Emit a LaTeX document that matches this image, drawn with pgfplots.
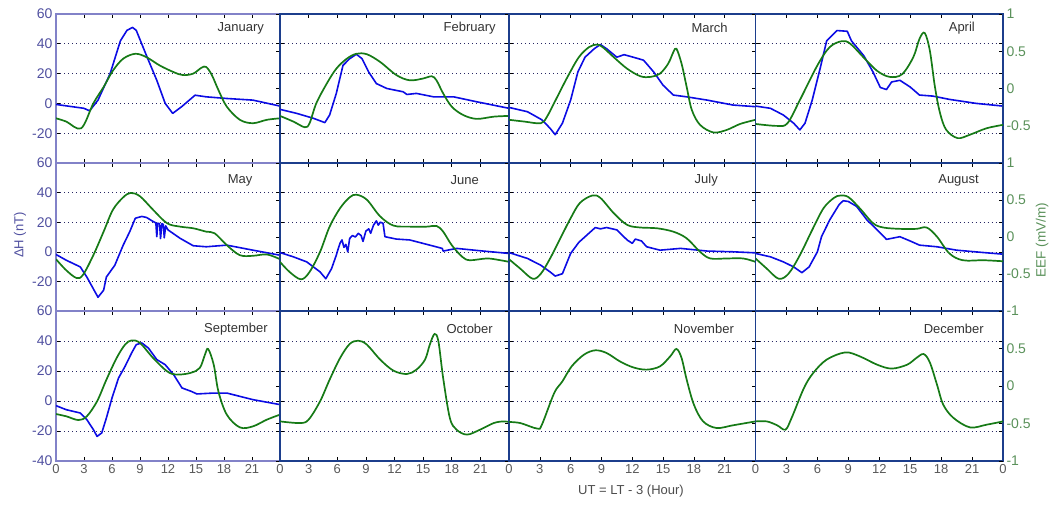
\documentclass[border=0pt]{standalone}
\usepackage{fontspec}
\setmainfont{Liberation Sans}
\usepackage{pgfplots}
\pgfplotsset{compat=1.18}

\definecolor{hblue}{RGB}{12,12,228}
\definecolor{egreen}{RGB}{22,122,22}
\definecolor{sep}{RGB}{28,62,140}
\definecolor{edge}{RGB}{130,130,200}
\definecolor{lblue}{RGB}{80,80,160}
\definecolor{lgreen}{RGB}{90,145,90}
\definecolor{gridc}{RGB}{40,40,100}

\tikzset{mon/.style={anchor=east, inner sep=0pt, font=\fontsize{13}{15}\selectfont, text=black!80}}

\pgfplotsset{
  base/.style={scale only axis, anchor=south west, xmin=0, xmax=24,
    xtick={0,3,...,24}, xticklabels={}, yticklabels={},
    tick align=inside, major tick length=4pt,
    tick style={black, line width=0.6pt},
    ticklabel style={font=\fontsize{13}{15}\selectfont},
    yticklabel style={font=\fontsize{14}{16}\selectfont},
  },
  hax/.style={base, ymin=-40, ymax=60, ytick={-40,-20,0,20,40,60},
    ymajorgrids, grid style={gridc, line width=0.6pt, dash pattern=on 0.8pt off 3.2pt},
    x axis line style={black, line width=0.8pt},
    y axis line style={sep, line width=1.4pt},
    yticklabel style={text=lblue}, xticklabel style={text=black!65}},
  eax/.style={base, ymin=-1, ymax=1, ytick={-1,-0.5,0,0.5,1},
    axis x line=none, axis y line*=right,
    y axis line style={sep, line width=1.4pt},
    yticklabel style={text=lgreen}},
  bl/.style={hblue, line width=1.6pt, line join=round},
  gr/.style={egreen, line width=1.7pt, smooth, tension=0.55},
  botx/.style={xticklabels={0,3,6,9,12,15,18,21,{}}},
}

\begin{document}
\begin{tikzpicture}
\useasboundingbox (0pt,0pt) rectangle (1054pt,504pt);

% ---------------- January ----------------
\begin{axis}[hax, at={(56pt,341pt)}, width=224pt, height=149pt,
  y axis line style={edge, line width=1.2pt}, yticklabels={{},-20,0,20,40,60}]
\addplot[bl] coordinates {(0,-0.7) (1.5,-2) (3,-3.3) (3.6,-5) (4.5,2.2) (5.8,20) (6.9,42) (7.6,49) (8.2,51) (8.6,49) (9.7,32) (10.8,15.5) (11.7,0) (12.5,-6.7) (13.5,-2) (14.9,5.5) (16.1,4.4) (18.3,3.3) (21.1,2.2) (24,-1.8)};
\node[mon] at (rel axis cs:0.929,0.906) {January};
\end{axis}
\begin{axis}[eax, at={(56pt,341pt)}, width=224pt, height=149pt]
\addplot[gr] coordinates {(0,-0.40) (1.1,-0.444) (2.7,-0.534) (4.0,-0.20) (5.1,0.02) (6.1,0.24) (7.2,0.40) (8.5,0.466) (9.7,0.42) (11.1,0.31) (12.6,0.22) (13.6,0.18) (14.7,0.20) (15.6,0.28) (16.1,0.288) (16.7,0.18) (17.4,-0.02) (18.3,-0.244) (19.7,-0.42) (21.1,-0.466) (22.6,-0.42) (24,-0.40)};
\end{axis}

% ---------------- February ----------------
\begin{axis}[hax, at={(280pt,341pt)}, width=229pt, height=149pt]
\addplot[bl] coordinates {(0,-4) (1.75,-6.7) (3.5,-10) (4.7,-12.9) (5.2,-7.8) (5.9,6.7) (6.6,25.5) (7.3,30) (8.0,33) (8.6,30) (9.3,21) (10.1,13.3) (11.2,10) (12.9,7.8) (13.3,6) (14.3,6.7) (16.1,4.4) (18.2,4.4) (20.6,1.1) (24,-3.3)};
\node[mon] at (rel axis cs:0.943,0.906) {February};
\end{axis}
\begin{axis}[eax, at={(280pt,341pt)}, width=229pt, height=149pt]
\addplot[gr] coordinates {(0,-0.368) (1.4,-0.444) (2.6,-0.52) (3.1,-0.466) (3.8,-0.20) (4.9,0.066) (5.9,0.266) (7.0,0.40) (8.0,0.466) (9.1,0.46) (10.5,0.356) (12.2,0.18) (13.6,0.11) (15.0,0.134) (15.9,0.164) (16.4,0.11) (17.1,-0.066) (18.0,-0.244) (19.2,-0.356) (20.6,-0.408) (22.4,-0.378) (24,-0.368)};
\end{axis}

% ---------------- March ----------------
\begin{axis}[hax, at={(509pt,341pt)}, width=246.5pt, height=149pt]
\addplot[bl] coordinates {(0,-2.7) (1.8,-5.6) (3.2,-11) (4.0,-16.7) (4.5,-21) (5.2,-13.3) (6.0,2.2) (6.7,21) (7.4,31) (8.3,36.7) (8.9,39.5) (9.5,36.7) (10.5,31) (11.2,32.7) (12.1,31) (13.1,29) (14.1,21) (15.0,12.2) (16.0,5.6) (17.3,4.4) (19.3,2.2) (21.8,-1.1) (24,-2.2)};
\node[mon] at (rel axis cs:0.888,0.906) {March};
\end{axis}
\begin{axis}[eax, at={(509pt,341pt)}, width=246.5pt, height=149pt]
\addplot[gr] coordinates {(0,-0.42) (1.5,-0.444) (3.1,-0.466) (3.7,-0.378) (4.7,-0.112) (5.7,0.156) (6.8,0.42) (7.8,0.556) (8.6,0.59) (9.2,0.546) (10.2,0.42) (11.5,0.266) (12.8,0.164) (13.8,0.156) (14.7,0.20) (15.5,0.334) (16.0,0.488) (16.3,0.534) (16.8,0.334) (17.3,0.02) (17.8,-0.288) (18.6,-0.488) (19.9,-0.59) (21.2,-0.556) (22.5,-0.476) (24,-0.42)};
\end{axis}

% ---------------- April ----------------
\begin{axis}[hax, at={(755.5pt,341pt)}, width=247.5pt, height=149pt]
\addplot[bl] coordinates {(0,-1.8) (1.45,-3.3) (2.7,-7.8) (3.7,-13.3) (4.3,-17.8) (4.8,-13.3) (5.5,2.2) (6.3,24.4) (6.9,42) (7.9,48.9) (8.9,48.4) (9.3,42) (10.5,32) (11.4,21) (12.1,10.7) (12.7,9.3) (13.2,14.4) (14.0,15.5) (15.0,11) (15.9,5.6) (17.2,4.9) (18.8,2.7) (21.4,0) (24,-1.8)};
\node[mon] at (rel axis cs:0.887,0.906) {April};
\end{axis}
\begin{axis}[eax, at={(755.5pt,341pt)}, width=247.5pt, height=149pt,
  yticklabels={{},-0.5,0,0.5,1}]
\addplot[gr] coordinates {(0,-0.476) (2.1,-0.502) (3.1,-0.466) (4.3,-0.156) (6.0,0.31) (7.2,0.556) (8.4,0.636) (9.2,0.60) (10.5,0.414) (11.8,0.236) (13.0,0.156) (14.2,0.19) (15.3,0.42) (15.9,0.666) (16.4,0.746) (16.9,0.512) (17.4,0.02) (17.9,-0.334) (18.5,-0.556) (19.6,-0.666) (20.8,-0.62) (22.4,-0.534) (24,-0.488)};
\end{axis}

% ---------------- May ----------------
\begin{axis}[hax, at={(56pt,193pt)}, width=224pt, height=148pt,
  y axis line style={edge, line width=1.2pt}, yticklabels={{},-20,0,20,40,60}]
\addplot[bl] coordinates {(0,-1.8) (1.1,-5.7) (2.6,-10.2) (3.3,-17) (4.0,-25) (4.5,-30.7) (5.1,-26) (5.4,-17) (6.3,-9.1) (7.2,4.5) (7.9,13.6) (8.5,22.7) (9.2,23.9) (9.7,23.2) (10.4,20.5) (10.7,19.5) (10.8,10.2) (10.9,19.3) (11.1,19) (11.2,9) (11.35,19) (11.5,18.5) (11.6,9.5) (11.75,17.5) (12.0,14.8) (13.3,9.1) (14.7,4.1) (16.1,3.4) (18.3,4.5) (21.1,1.1) (24,-2.3)};
\node[mon] at (rel axis cs:0.878,0.885) {May};
\end{axis}
\begin{axis}[eax, at={(56pt,193pt)}, width=224pt, height=148pt]
\addplot[gr] coordinates {(0,-0.30) (1.1,-0.45) (2.2,-0.554) (2.9,-0.51) (4.0,-0.246) (5.1,0.072) (6.1,0.368) (7.2,0.536) (8.0,0.596) (9.0,0.55) (10.4,0.368) (11.9,0.186) (13.3,0.14) (14.7,0.118) (16.1,0.072) (17.0,0.05) (18.3,-0.11) (19.7,-0.246) (21.1,-0.254) (22.6,-0.236) (24,-0.30)};
\end{axis}

% ---------------- June ----------------
\begin{axis}[hax, at={(280pt,193pt)}, width=229pt, height=148pt]
\addplot[bl] coordinates {(0,-0.5) (1.4,-3.4) (2.8,-6.8) (3.5,-10.2) (4.2,-13.6) (4.8,-18.2) (5.4,-11.4) (5.9,-2.3) (6.0,0) (6.3,6) (6.5,8) (6.7,3) (6.9,5) (7.1,0) (7.3,9) (7.6,11) (7.9,10) (8.2,12.5) (8.5,11) (8.7,7) (9.0,14) (9.3,15.5) (9.5,12.5) (9.8,18) (10.1,20.9) (10.3,18) (10.5,20) (10.8,19.3) (11.0,10.2) (12.2,8.6) (13.6,8) (15.4,5) (17.0,2.3) (17.1,0.5) (18.5,2.3) (21.3,0.5) (24,-1.1)};
\node[mon] at (rel axis cs:0.869,0.885) {June};
\end{axis}
\begin{axis}[eax, at={(280pt,193pt)}, width=229pt, height=148pt]
\addplot[gr] coordinates {(0,-0.336) (1.0,-0.472) (2.2,-0.572) (3.1,-0.472) (4.2,-0.20) (5.2,0.14) (6.3,0.39) (7.3,0.536) (8.0,0.572) (9.1,0.504) (10.5,0.278) (11.9,0.154) (13.6,0.14) (15.4,0.14) (16.4,0.15) (17.1,0.072) (18.0,-0.11) (19.1,-0.268) (19.9,-0.314) (21.7,-0.29) (23.1,-0.314) (24,-0.336)};
\end{axis}

% ---------------- July ----------------
\begin{axis}[hax, at={(509pt,193pt)}, width=246.5pt, height=148pt]
\addplot[bl] coordinates {(0,-0.5) (1.8,-4.5) (3.1,-9.1) (4.0,-13.6) (4.5,-16.4) (5.2,-14.8) (6.0,-1.1) (6.8,6.4) (7.6,11.4) (8.4,16.4) (8.9,15.5) (9.5,16.4) (10.5,14.8) (11.5,8) (12.0,5.7) (12.3,8.6) (12.9,7.3) (13.4,3.4) (14.7,1.1) (16.7,2.3) (19.3,0.5) (21.8,0) (24,-0.7)};
\node[mon] at (rel axis cs:0.848,0.885) {July};
\end{axis}
\begin{axis}[eax, at={(509pt,193pt)}, width=246.5pt, height=148pt]
\addplot[gr] coordinates {(0,-0.30) (1.1,-0.428) (2.3,-0.564) (3.1,-0.496) (4.0,-0.29) (5.0,-0.018) (6.0,0.254) (6.9,0.46) (8.1,0.56) (8.9,0.528) (10.2,0.322) (11.5,0.164) (12.8,0.128) (14.4,0.118) (16.0,0.072) (17.3,-0.018) (18.6,-0.20) (19.6,-0.29) (21.2,-0.29) (22.8,-0.29) (24,-0.336)};
\end{axis}

% ---------------- August ----------------
\begin{axis}[hax, at={(755.5pt,193pt)}, width=247.5pt, height=148pt]
\addplot[bl] coordinates {(0,-1.1) (1.45,-3.4) (2.7,-6.8) (3.7,-10.2) (4.5,-14.1) (5.2,-10.2) (6.0,0) (6.4,10.2) (7.2,21.6) (8.1,31.8) (8.5,34.5) (9.0,34) (9.8,30.7) (10.8,21.6) (11.8,14.8) (12.7,8.4) (14.0,10.2) (15.0,7.3) (15.9,4.5) (17.6,3.4) (19.5,1.1) (22.1,-0.5) (24,-1.6)};
\node[mon] at (rel axis cs:0.903,0.885) {August};
\end{axis}
\begin{axis}[eax, at={(755.5pt,193pt)}, width=247.5pt, height=148pt,
  yticklabels={-1,-0.5,0,0.5,1}]
\addplot[gr] coordinates {(0,-0.29) (1.1,-0.428) (2.25,-0.564) (3.2,-0.496) (4.3,-0.246) (5.5,0.096) (6.6,0.39) (7.6,0.528) (8.2,0.56) (9.0,0.54) (10.1,0.39) (11.4,0.186) (12.4,0.128) (14.0,0.11) (15.6,0.11) (16.6,0.128) (17.6,0.004) (18.8,-0.222) (20.1,-0.314) (22.1,-0.314) (24,-0.328)};
\end{axis}

% ---------------- September ----------------
\begin{axis}[hax, at={(56pt,43pt)}, width=224pt, height=150pt, botx,
  y axis line style={edge, line width=1.2pt}, yticklabels={-40,-20,0,20,40,60}]
\addplot[bl] coordinates {(0,-3.1) (1.1,-5.8) (2.6,-8) (3.3,-12.4) (4.0,-19) (4.4,-23.6) (4.9,-21.3) (5.4,-11.3) (6.0,2) (6.7,15.3) (7.4,23.1) (8.1,32) (8.6,37.6) (9.2,38.7) (9.9,35.3) (10.8,27.6) (11.7,24.2) (12.6,17.6) (13.5,8.7) (14.5,6.4) (15.1,4.7) (16.9,5.3) (18.3,5.3) (21.1,0.9) (24,-2.4)};
\node[mon] at (rel axis cs:0.946,0.88) {September};
\end{axis}
\begin{axis}[eax, at={(56pt,43pt)}, width=224pt, height=150pt]
\addplot[gr] coordinates {(0,-0.374) (1.1,-0.404) (2.4,-0.454) (3.3,-0.404) (4.4,-0.204) (5.4,0.084) (6.5,0.374) (7.4,0.552) (8.1,0.608) (9.0,0.574) (10.4,0.374) (11.9,0.196) (12.9,0.152) (14.4,0.174) (15.4,0.24) (15.96,0.418) (16.3,0.494) (16.9,0.284) (17.4,-0.072) (18.3,-0.382) (19.7,-0.552) (21.1,-0.538) (22.6,-0.448) (24,-0.382)};
\end{axis}

% ---------------- October ----------------
\begin{axis}[hax, at={(280pt,43pt)}, width=229pt, height=150pt, botx]
\node[mon] at (rel axis cs:0.930,0.88) {October};
\end{axis}
\begin{axis}[eax, at={(280pt,43pt)}, width=229pt, height=150pt]
\addplot[gr] coordinates {(0,-0.472) (2.1,-0.494) (3.0,-0.448) (4.2,-0.204) (5.2,0.084) (6.3,0.374) (7.3,0.56) (8.2,0.604) (9.1,0.552) (10.5,0.352) (11.9,0.204) (13.3,0.16) (14.3,0.218) (15.2,0.352) (15.7,0.552) (16.2,0.694) (16.6,0.596) (17.1,0.106) (17.8,-0.426) (18.5,-0.582) (19.6,-0.648) (20.97,-0.582) (22.4,-0.494) (23.4,-0.472) (24,-0.48)};
\end{axis}

% ---------------- November ----------------
\begin{axis}[hax, at={(509pt,43pt)}, width=246.5pt, height=150pt, botx]
\node[mon] at (rel axis cs:0.913,0.88) {November};
\end{axis}
\begin{axis}[eax, at={(509pt,43pt)}, width=246.5pt, height=150pt]
\addplot[gr] coordinates {(0,-0.48) (1.1,-0.494) (2.75,-0.568) (3.2,-0.516) (4.4,-0.094) (5.2,0.062) (6.1,0.262) (7.3,0.418) (8.4,0.476) (9.5,0.44) (10.8,0.328) (12.1,0.248) (13.4,0.218) (14.7,0.262) (15.7,0.396) (16.3,0.494) (16.8,0.374) (17.3,0.084) (18.0,-0.248) (18.9,-0.472) (20.2,-0.56) (21.8,-0.524) (24,-0.472)};
\end{axis}

% ---------------- December ----------------
\begin{axis}[hax, at={(755.5pt,43pt)}, width=247.5pt, height=150pt,
  xticklabels={0,3,6,9,12,15,18,21,0}]
\node[mon] at (rel axis cs:0.923,0.88) {December};
\end{axis}
\begin{axis}[eax, at={(755.5pt,43pt)}, width=247.5pt, height=150pt,
  yticklabels={-1,-0.5,0,0.5,{}}]
\addplot[gr] coordinates {(0,-0.472) (1.1,-0.472) (2.1,-0.524) (2.9,-0.582) (3.5,-0.426) (4.7,-0.026) (5.6,0.174) (6.9,0.352) (8.7,0.448) (10.1,0.396) (11.8,0.284) (13.2,0.232) (14.7,0.284) (15.6,0.374) (16.3,0.426) (16.9,0.316) (17.6,0.018) (18.2,-0.248) (19.2,-0.426) (20.8,-0.552) (22.4,-0.516) (24,-0.472)};
\end{axis}

% axis titles
\node[rotate=90, text=lblue, font=\fontsize{13}{15}\selectfont] at (20pt,269pt) {ΔH (nT)};
\node[rotate=90, text=lgreen, font=\fontsize{13.5}{15}\selectfont] at (1042pt,264pt) {EEF (mV/m)};
\node[text=black!70, font=\fontsize{13}{15}\selectfont] at (631pt,13pt) {UT = LT - 3 (Hour)};
\end{tikzpicture}
\end{document}
